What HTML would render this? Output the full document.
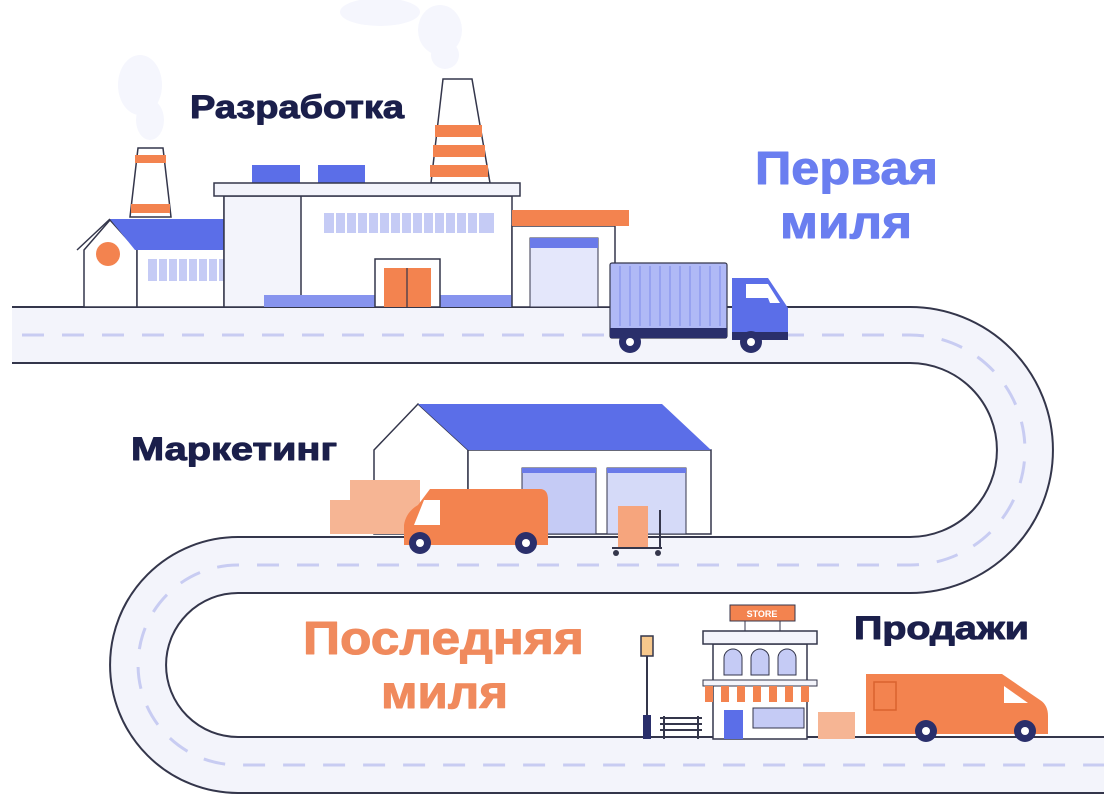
<!DOCTYPE html>
<html><head><meta charset="utf-8"><style>
html,body{margin:0;padding:0;background:#fff;}
svg{display:block;}
text{font-family:"Liberation Sans","DejaVu Sans",sans-serif;font-weight:bold;}
</style></head><body>
<svg width="1104" height="802" viewBox="0 0 1104 802" xmlns="http://www.w3.org/2000/svg">
<rect width="1104" height="802" fill="#fff"/>
<!-- smoke -->
<g fill="#f5f6fd">
<ellipse cx="140" cy="85" rx="22" ry="30"/><ellipse cx="150" cy="120" rx="14" ry="20"/>
<ellipse cx="380" cy="12" rx="40" ry="14"/><ellipse cx="440" cy="30" rx="22" ry="25"/><ellipse cx="445" cy="55" rx="14" ry="14"/>
</g>
<!-- road -->
<path d="M12 335 H910 A115 115 0 0 1 910 565 H238 A100 100 0 0 0 238 765 H1104" fill="none" stroke="#34364b" stroke-width="58"/>
<path d="M12 335 H910 A115 115 0 0 1 910 565 H238 A100 100 0 0 0 238 765 H1104" fill="none" stroke="#f3f4fb" stroke-width="54"/>
<path d="M22 335 H910 A115 115 0 0 1 910 565 H238 A100 100 0 0 0 238 765 H1104" fill="none" stroke="#c8ccf2" stroke-width="3" stroke-dasharray="22 18"/>
<rect x="0" y="300" width="12" height="70" fill="#fff"/>

<!-- factory: small chimney -->
<polygon points="138,148 163,148 171,217 130,217" fill="#fff" stroke="#34364b" stroke-width="1.5"/>
<rect x="135" y="155" width="31" height="8" fill="#f3834f"/>
<rect x="131" y="204" width="39" height="9" fill="#f3834f"/>
<!-- small house -->
<polygon points="84,250 110,220 137,250 137,307 84,307" fill="#fff" stroke="#34364b" stroke-width="1.5"/>
<rect x="137" y="248" width="128" height="59" fill="#fff" stroke="#34364b" stroke-width="1.5"/>
<polygon points="110,219 244,219 270,250 135,250" fill="#5b6ee8"/>
<line x1="77" y1="250" x2="110" y2="219" stroke="#34364b" stroke-width="1.5"/>
<circle cx="108" cy="254" r="12" fill="#f3834f"/>
<g fill="#c5cbf5"><rect x="148" y="259" width="103" height="22"/></g>
<g stroke="#fff" stroke-width="2"><line x1="158" y1="259" x2="158" y2="281"/><line x1="168" y1="259" x2="168" y2="281"/><line x1="178" y1="259" x2="178" y2="281"/><line x1="188" y1="259" x2="188" y2="281"/><line x1="198" y1="259" x2="198" y2="281"/><line x1="208" y1="259" x2="208" y2="281"/><line x1="218" y1="259" x2="218" y2="281"/><line x1="228" y1="259" x2="228" y2="281"/><line x1="240" y1="259" x2="240" y2="281"/></g>
<!-- big chimney -->
<polygon points="443,79 472,79 490,183 431,183" fill="#fff" stroke="#34364b" stroke-width="1.5"/>
<rect x="435" y="125" width="47" height="12" fill="#f3834f"/>
<rect x="433" y="145" width="52" height="12" fill="#f3834f"/>
<rect x="430" y="165" width="58" height="12" fill="#f3834f"/>
<!-- roof boxes -->
<rect x="252" y="165" width="48" height="18" fill="#5b6ee8"/>
<rect x="318" y="165" width="47" height="18" fill="#5b6ee8"/>
<!-- main building -->
<rect x="224" y="196" width="288" height="111" fill="#fff" stroke="#34364b" stroke-width="1.5"/>
<rect x="224" y="196" width="77" height="111" fill="#f3f4fb" stroke="#34364b" stroke-width="1.5"/>
<rect x="214" y="183" width="306" height="13" fill="#f3f4fb" stroke="#34364b" stroke-width="1.5"/>
<rect x="324" y="213" width="170" height="20" fill="#c5cbf5"/>
<g stroke="#fff" stroke-width="2"><line x1="335" y1="213" x2="335" y2="233"/><line x1="346" y1="213" x2="346" y2="233"/><line x1="357" y1="213" x2="357" y2="233"/><line x1="368" y1="213" x2="368" y2="233"/><line x1="379" y1="213" x2="379" y2="233"/><line x1="390" y1="213" x2="390" y2="233"/><line x1="401" y1="213" x2="401" y2="233"/><line x1="412" y1="213" x2="412" y2="233"/><line x1="423" y1="213" x2="423" y2="233"/><line x1="434" y1="213" x2="434" y2="233"/><line x1="445" y1="213" x2="445" y2="233"/><line x1="456" y1="213" x2="456" y2="233"/><line x1="467" y1="213" x2="467" y2="233"/><line x1="478" y1="213" x2="478" y2="233"/></g>
<rect x="264" y="295" width="111" height="12" fill="#8794ee"/>
<rect x="440" y="295" width="72" height="12" fill="#8794ee"/>
<rect x="375" y="259" width="65" height="48" fill="#fff" stroke="#34364b" stroke-width="1.5"/>
<rect x="384" y="268" width="47" height="39" fill="#f3834f"/>
<line x1="407" y1="268" x2="407" y2="307" stroke="#34364b" stroke-width="1.2"/>
<!-- annex -->
<rect x="512" y="226" width="103" height="81" fill="#fff" stroke="#34364b" stroke-width="1.5"/>
<rect x="512" y="210" width="117" height="16" fill="#f3834f"/>
<rect x="530" y="238" width="68" height="69" fill="#e4e7fb" stroke="#34364b" stroke-width="1"/>
<rect x="530" y="238" width="68" height="10" fill="#6a7ae9"/>
<!-- truck -->
<rect x="610" y="263" width="117" height="75" rx="2" fill="#b0b9f6" stroke="#34364b" stroke-width="1.2"/>
<g stroke="#97a2f0" stroke-width="2"><line x1="620" y1="266" x2="620" y2="326"/><line x1="630" y1="266" x2="630" y2="326"/><line x1="640" y1="266" x2="640" y2="326"/><line x1="650" y1="266" x2="650" y2="326"/><line x1="660" y1="266" x2="660" y2="326"/><line x1="670" y1="266" x2="670" y2="326"/><line x1="680" y1="266" x2="680" y2="326"/><line x1="690" y1="266" x2="690" y2="326"/><line x1="700" y1="266" x2="700" y2="326"/><line x1="710" y1="266" x2="710" y2="326"/><line x1="720" y1="266" x2="720" y2="326"/></g>
<rect x="610" y="328" width="117" height="10" fill="#2a2f6b"/>
<path d="M732 278 H768 L788 308 V340 H732 Z" fill="#5b6ee8"/>
<path d="M746 284 H768 L780 303 H770 L768 298 H746 Z" fill="#fff"/>
<rect x="732" y="332" width="56" height="8" fill="#2a2f6b"/>
<circle cx="630" cy="342" r="11" fill="#2a2f6b"/><circle cx="630" cy="342" r="4" fill="#fff"/>
<circle cx="751" cy="342" r="11" fill="#2a2f6b"/><circle cx="751" cy="342" r="4" fill="#fff"/>

<!-- warehouse -->
<polygon points="374,450 418,404 468,450 468,534 374,534" fill="#fff" stroke="#34364b" stroke-width="1.5"/>
<rect x="468" y="450" width="243" height="84" fill="#fff" stroke="#34364b" stroke-width="1.5"/>
<polygon points="418,404 662,404 711,450 468,450" fill="#5b6ee8"/>
<rect x="522" y="468" width="74" height="66" fill="#c5cbf5" stroke="#34364b" stroke-width="1"/>
<rect x="607" y="468" width="79" height="66" fill="#d5daf8" stroke="#34364b" stroke-width="1"/>
<rect x="522" y="468" width="74" height="5" fill="#6a7ae9"/><rect x="607" y="468" width="79" height="5" fill="#6a7ae9"/>
<rect x="330" y="500" width="90" height="34" fill="#f6b594"/>
<rect x="350" y="480" width="70" height="22" fill="#f6b594"/>
<!-- van mid -->
<path d="M430 489 H540 Q548 489 548 500 V545 H404 V525 Q406 512 418 505 Z" fill="#f3834f"/>
<path d="M424 500 H440 V525 H414 Z" fill="#fff"/>
<circle cx="420" cy="543" r="11" fill="#2a2f6b"/><circle cx="420" cy="543" r="4" fill="#fff"/>
<circle cx="526" cy="543" r="11" fill="#2a2f6b"/><circle cx="526" cy="543" r="4" fill="#fff"/>
<!-- cart -->
<rect x="618" y="506" width="30" height="42" fill="#f6a57d"/>
<line x1="612" y1="548" x2="662" y2="548" stroke="#34364b" stroke-width="2"/>
<line x1="660" y1="510" x2="660" y2="548" stroke="#34364b" stroke-width="2"/>
<circle cx="616" cy="553" r="3" fill="#34364b"/><circle cx="658" cy="553" r="3" fill="#34364b"/>

<!-- store -->
<rect x="730" y="605" width="65" height="16" fill="#f3834f" stroke="#34364b" stroke-width="1"/>
<text x="762" y="617" font-size="9" fill="#fff" text-anchor="middle">STORE</text>
<line x1="745" y1="621" x2="745" y2="631" stroke="#34364b"/><line x1="780" y1="621" x2="780" y2="631" stroke="#34364b"/>
<rect x="713" y="644" width="94" height="95" fill="#fff" stroke="#34364b" stroke-width="1.5"/>
<rect x="703" y="631" width="114" height="13" fill="#f3f4fb" stroke="#34364b" stroke-width="1.5"/>
<g fill="#c5cbf5" stroke="#34364b" stroke-width="1"><path d="M724 675 V658 A9 9 0 0 1 742 658 V675 Z"/><path d="M751 675 V658 A9 9 0 0 1 769 658 V675 Z"/><path d="M778 675 V658 A9 9 0 0 1 796 658 V675 Z"/></g>
<rect x="703" y="680" width="114" height="6" fill="#f3f4fb" stroke="#34364b" stroke-width="1"/>
<g fill="#f3834f"><rect x="705" y="686" width="8" height="16"/><rect x="721" y="686" width="8" height="16"/><rect x="737" y="686" width="8" height="16"/><rect x="753" y="686" width="8" height="16"/><rect x="769" y="686" width="8" height="16"/><rect x="785" y="686" width="8" height="16"/><rect x="801" y="686" width="8" height="16"/></g>
<rect x="724" y="710" width="19" height="29" fill="#5b6ee8"/>
<rect x="753" y="708" width="51" height="20" fill="#c5cbf5" stroke="#34364b" stroke-width="1"/>
<!-- lamp & bench -->
<line x1="647" y1="656" x2="647" y2="739" stroke="#34364b" stroke-width="2"/>
<rect x="641" y="636" width="12" height="20" fill="#f7c88c" stroke="#34364b" stroke-width="1.5"/>
<rect x="643" y="715" width="8" height="24" fill="#2a2f6b"/>
<g stroke="#34364b" stroke-width="2"><line x1="660" y1="718" x2="702" y2="718"/><line x1="660" y1="724" x2="702" y2="724"/><line x1="660" y1="730" x2="702" y2="730"/><line x1="664" y1="716" x2="664" y2="739"/><line x1="698" y1="716" x2="698" y2="739"/></g>
<rect x="818" y="712" width="37" height="27" fill="#f6b594"/>
<!-- van right -->
<path d="M866 674 H1002 L1040 700 Q1048 705 1048 716 V734 H866 Z" fill="#f3834f"/>
<path d="M1004 686 L1028 703 H1004 Z" fill="#fff"/>
<rect x="874" y="682" width="22" height="28" fill="none" stroke="#d9632f" stroke-width="1.5"/>
<circle cx="926" cy="731" r="11" fill="#2a2f6b"/><circle cx="926" cy="731" r="4" fill="#fff"/>
<circle cx="1025" cy="731" r="11" fill="#2a2f6b"/><circle cx="1025" cy="731" r="4" fill="#fff"/>

<!-- labels -->
<g stroke-width="1" stroke-linejoin="round">
<text x="190" y="118" font-size="32" fill="#1b1f4b" stroke="#1b1f4b" textLength="214" lengthAdjust="spacingAndGlyphs">Разработка</text>
<text x="755" y="184" font-size="46" fill="#6a7ef0" stroke="#6a7ef0" textLength="183" lengthAdjust="spacingAndGlyphs">Первая</text>
<text x="780" y="238" font-size="46" fill="#6a7ef0" stroke="#6a7ef0" textLength="132" lengthAdjust="spacingAndGlyphs">миля</text>
<text x="131" y="460" font-size="32" fill="#1b1f4b" stroke="#1b1f4b" textLength="206" lengthAdjust="spacingAndGlyphs">Маркетинг</text>
<text x="303" y="654" font-size="46" fill="#f08a5d" stroke="#f08a5d" textLength="281" lengthAdjust="spacingAndGlyphs">Последняя</text>
<text x="381" y="708" font-size="46" fill="#f08a5d" stroke="#f08a5d" textLength="127" lengthAdjust="spacingAndGlyphs">миля</text>
<text x="854" y="639" font-size="32" fill="#1b1f4b" stroke="#1b1f4b" textLength="175" lengthAdjust="spacingAndGlyphs">Продажи</text>
</g>
</svg>
</body></html>
